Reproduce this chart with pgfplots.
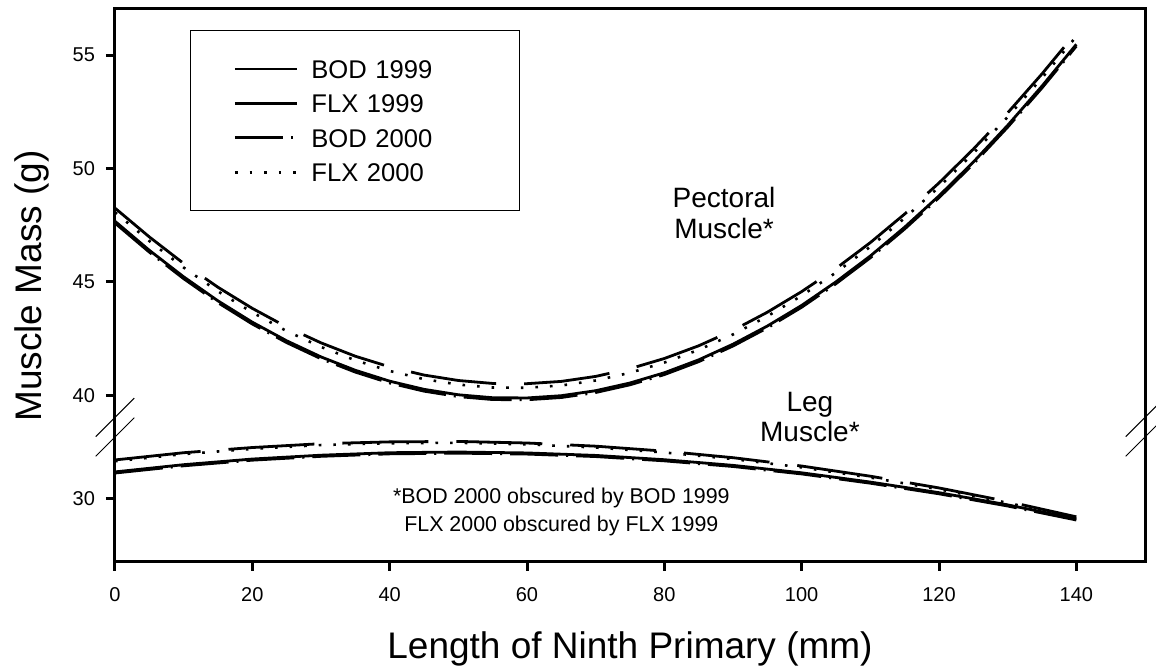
\documentclass[border=0pt]{standalone}
\usepackage{fontspec}
\setmainfont{Liberation Sans}
\usepackage{pgfplots}
\usepackage{pgfplotstable}
\pgfplotsset{compat=1.18}

% pectoral muscle fits
\pgfplotstableread{
x   bod99  flx99  bod00  flx00
0   47.67  48.25  47.59  48.07
5   46.39  46.98  46.31  46.80
10  45.22  45.81  45.14  45.63
15  44.16  44.76  44.08  44.58
20  43.22  43.83  43.14  43.65
25  42.40  43.01  42.32  42.83
30  41.69  42.31  41.61  42.13
35  41.10  41.72  41.02  41.54
40  40.62  41.25  40.54  41.07
45  40.26  40.89  40.18  40.71
50  40.02  40.65  39.94  40.47
55  39.89  40.52  39.81  40.34
60  39.88  40.51  39.80  40.33
65  39.98  40.61  39.90  40.43
70  40.20  40.83  40.12  40.65
75  40.54  41.17  40.46  40.99
80  40.99  41.62  40.91  41.44
85  41.56  42.18  41.48  42.00
90  42.25  42.86  42.17  42.68
95  43.05  43.66  42.97  43.48
100 43.96  44.57  43.88  44.39
105 45.00  45.59  44.92  45.41
110 46.14  46.73  46.06  46.55
115 47.41  47.99  47.33  47.81
120 48.79  49.36  48.71  49.18
125 50.28  50.85  50.20  50.67
130 51.90  52.45  51.82  52.27
135 53.63  54.17  53.55  53.99
140 55.47  56.00  55.39  55.82
}\pect

% leg muscle fits
\pgfplotstableread{
x   bod99  flx99  bod00  flx00
0   31.19  31.72  31.14  31.66
10  31.51  32.04  31.46  31.98
20  31.76  32.27  31.71  32.21
30  31.93  32.44  31.88  32.38
40  32.04  32.52  31.99  32.46
50  32.07  32.54  32.02  32.48
60  32.03  32.47  31.98  32.41
70  31.92  32.33  31.87  32.27
80  31.73  32.11  31.68  32.05
90  31.48  31.82  31.43  31.76
100 31.15  31.45  31.10  31.39
110 30.74  31.00  30.69  30.94
120 30.27  30.48  30.22  30.42
130 29.73  29.88  29.68  29.82
140 29.11  29.20  29.06  29.14
}\leg

\pgfplotsset{
  brk/.style={
    scale only axis, width=515pt,
    xmin=0, xmax=150, clip=false,
    tick align=outside, major tick length=4.5pt,
    tick style={line width=1.5pt, black},
    axis line style={line width=1.5pt, line cap=rect},
    tick label style={font=\fontsize{10}{12}\selectfont},
    /pgf/number format/assume math mode=true,
    yticklabel style={xshift=-2pt},
    xticklabel style={yshift=-4.7pt},
  },
  s99/.style={black, line width=1.4pt, line join=round},
  sflx99/.style={black, line width=1.4pt, line join=round, dash pattern=on 43pt off 14pt},
  s00/.style={black, line width=1.4pt, line join=round, dash pattern=on 24pt off 4pt on 1pt off 4pt},
  sflx00/.style={black, line width=1.3pt, dash pattern=on 1.3pt off 6pt},
}

\begin{document}
\begin{tikzpicture}
\useasboundingbox (-57.5pt,-55pt) rectangle (520.5pt,281pt);

\begin{axis}[brk, name=lower,
  at={(0,0)}, anchor=south west,
  height=67.5pt,
  ymin=27.2, ymax=33.18,
  axis x line*=bottom, axis y line*=box,
  xtick={0,20,...,140}, ytick={30}, ytick pos=left,
  xlabel={Length of Ninth Primary (mm)},
  xlabel style={at={(axis description cs:0.5,0)}, anchor=base, yshift=-48.5pt,
    font=\fontsize{18.5}{22}\selectfont},
]
\addplot[s00] table[x=x, y=bod00] {\leg};
\addplot[s99] table[x=x, y=bod99] {\leg};
\addplot[sflx00] table[x=x, y=flx00] {\leg};
\addplot[sflx99] table[x=x, y=flx99] {\leg};
\node[align=center, font=\fontsize{10.7}{14}\selectfont] at (axis cs:65,29.43)
  {*BOD 2000 obscured by BOD 1999\\FLX 2000 obscured by FLX 1999};
\end{axis}

\begin{axis}[brk, name=upper,
  at={(0,67.5pt)}, anchor=south west,
  height=209pt,
  ymin=38.6, ymax=57.03,
  axis x line*=top, axis y line*=box,
  xtick=\empty, ytick={40,45,50,55}, ytick pos=left,
  ylabel={Muscle Mass (g)},
  ylabel style={at={(axis description cs:-0.07087,0.337)}, anchor=base, rotate=0,
    font=\fontsize{18.5}{22}\selectfont},
  legend style={at={(0.0728,0.9498)}, anchor=north west,
    draw=black, line width=0.6pt,
    inner xsep=21.5pt, inner ysep=12.5pt, row sep=3.7pt,
    font=\fontsize{12.8}{15}\selectfont,
    nodes={inner sep=0pt, text height=11.5pt, text depth=2pt, text width=82.5pt, align=left},
    /tikz/every odd column/.append style={column sep=6.5pt}},
  legend cell align=left,
  legend image code/.code={\draw[#1] (0pt,0pt) -- (31pt,0pt);},
]
\addplot[s99] table[x=x, y=bod99] {\pect};
\addlegendentry{BOD 1999}
\addplot[sflx99] table[x=x, y=flx99] {\pect};
\addlegendentry{FLX 1999}
\addplot[s00] table[x=x, y=bod00] {\pect};
\addlegendentry{BOD 2000}
\addplot[sflx00] table[x=x, y=flx00] {\pect};
\addlegendentry{FLX 2000}
\node[align=center, font=\fontsize{14}{15.5}\selectfont] at (axis cs:88.7,48.05)
  {Pectoral\\Muscle*};
\node[align=center, font=\fontsize{14}{15}\selectfont] at (axis cs:101.2,39.03)
  {Leg\\Muscle*};
\end{axis}

% axis break marks
\foreach \side in {north west, north east} {
  \draw[line width=0.5pt, shift={(lower.\side)}] (-9.65pt,-14.65pt) -- (9.65pt,4.65pt);
  \draw[line width=0.5pt, shift={(lower.\side)}] (-9.65pt,-4.85pt) -- (9.65pt,14.45pt);
}
\end{tikzpicture}
\end{document}
